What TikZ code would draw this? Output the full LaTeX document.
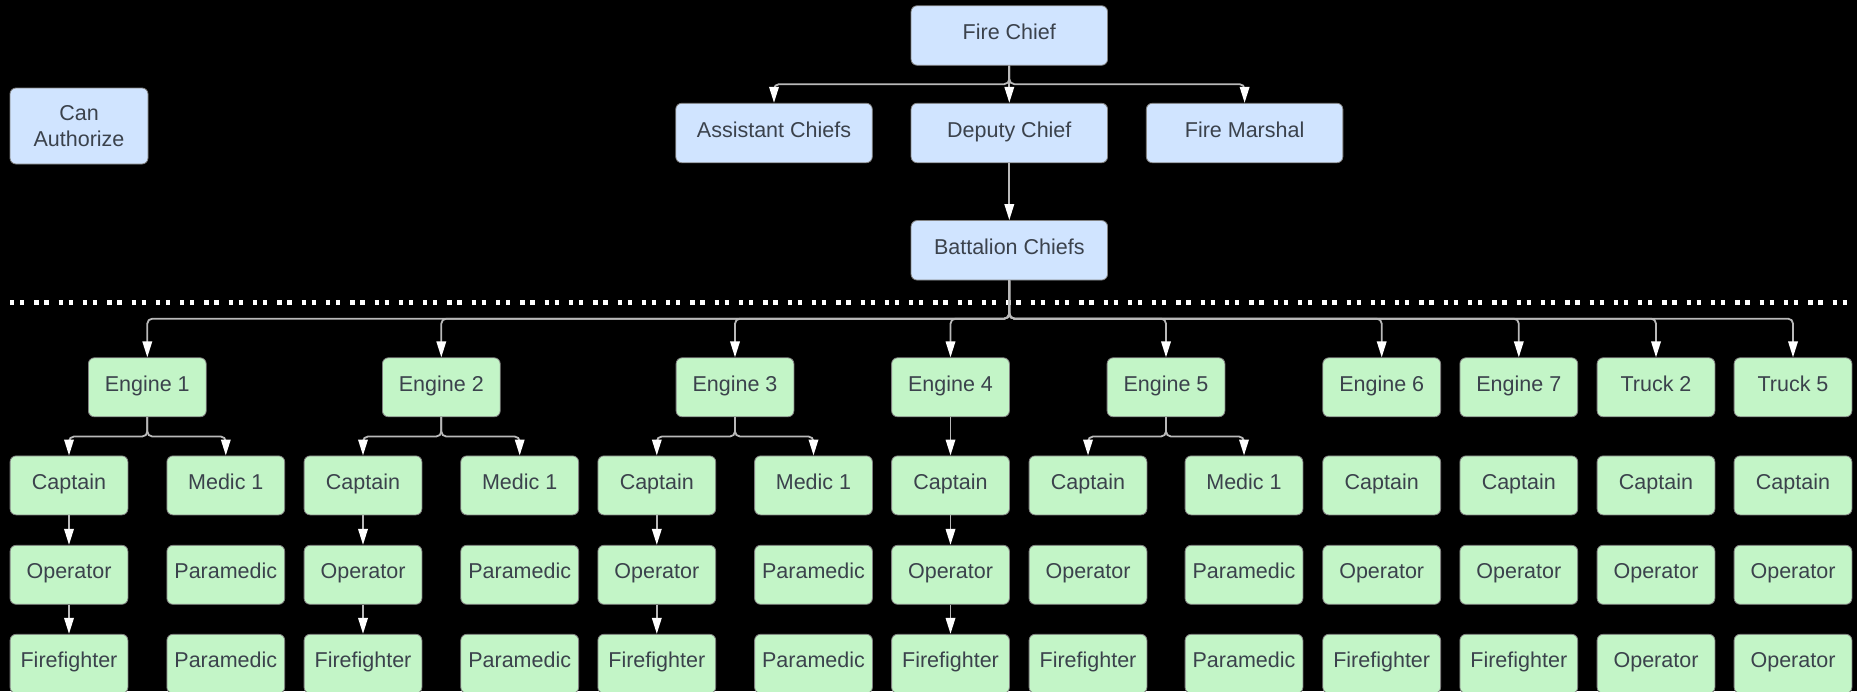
\documentclass[tikz,border=0pt]{standalone}
\usepackage{fontspec}
\setmainfont{Liberation Sans}
\usetikzlibrary{arrows.meta}

\begin{document}
\begin{tikzpicture}[x=1pt,y=-1pt]
    % Define box colors
    \definecolor{boxblue}{RGB}{208, 228, 255}
    \definecolor{boxgreen}{RGB}{195, 245, 199}
    \definecolor{boxline}{RGB}{130, 130, 130}
    \definecolor{boxtext}{RGB}{59, 66, 76}
    \definecolor{linkgray}{RGB}{185, 185, 185}
    \tikzset{
        box/.style={draw=boxline, line width=0.8pt, rounded corners=6pt, inner sep=0pt,
            text=boxtext, font=\fontsize{21.5}{26}\selectfont, align=center},
        chief/.style={box, fill=boxblue, minimum width=196.5pt, minimum height=59.5pt,
            text height=14.5pt, text depth=6.5pt},
        crew/.style={box, fill=boxgreen, minimum width=117.8pt, minimum height=59pt,
            text height=14.5pt, text depth=6.5pt},
        link/.style={draw=linkgray, line width=1.8pt, rounded corners=5pt,
            -{Triangle[length=16pt, width=9.5pt, color=white, fill=white]}}
    }

    % Black page
    \fill[black] (0,0) rectangle (1857,691);
    \useasboundingbox (0,0) rectangle (1857,691);
    \clip (0,0) rectangle (1857,691);

    % Chiefs
    \node[box, fill=boxblue, minimum width=138pt, minimum height=76pt] (canAuth) at (79,126) {Can\\Authorize};
    \node[chief] (fireChief) at (1009.3,35.5) {Fire Chief};
    \node[chief] (assistant) at (774,133) {Assistant Chiefs};
    \node[chief] (deputy) at (1009.3,133) {Deputy Chief};
    \node[chief] (marshal) at (1244.6,133) {Fire Marshal};
    \node[chief] (battalion) at (1009.3,250.3) {Battalion Chiefs};

    \draw[link] (fireChief.south) -- ++(0,18.5) -| (assistant.north);
    \draw[link] (fireChief.south) -- ++(0,18.5) -| (marshal.north);
    \draw[link] (fireChief) -- (deputy);
    \draw[link] (deputy) -- (battalion);

    % Dotted separator
    \draw[white, line width=4.3pt, dash pattern=on 4.3pt off 5.7pt on 4.3pt off 10pt] (10,302.5) -- (1852,302.5);

    % Engines and trucks
    \foreach \name/\label/\xx in {eng1/Engine 1/147.3, eng2/Engine 2/441.3, eng3/Engine 3/735,
        eng4/Engine 4/950.5, eng5/Engine 5/1166, eng6/Engine 6/1381.7, eng7/Engine 7/1518.8,
        truck2/Truck 2/1656, truck5/Truck 5/1793} {
        \node[crew] (\name) at (\xx,387.3) {\label};
        \draw[link] (battalion.south) -- ++(0,38.2) -| (\name.north);
    }

    % Captain columns
    \foreach \xx/\last [count=\i] in {69/Firefighter, 363/Firefighter, 656.8/Firefighter,
        950.5/Firefighter, 1088/Firefighter, 1381.7/Firefighter, 1518.8/Firefighter,
        1656/Operator, 1793/Operator} {
        \node[crew] (cap\i) at (\xx,485.4) {Captain};
        \node[crew] (op\i) at (\xx,574.8) {Operator};
        \node[crew] (ff\i) at (\xx,663.8) {\last};
    }

    % Medic columns
    \foreach \xx [count=\i] in {225.8, 519.7, 813.5, 1244} {
        \node[crew] (med\i) at (\xx,485.4) {Medic 1};
        \node[crew] (paraA\i) at (\xx,574.8) {Paramedic};
        \node[crew] (paraB\i) at (\xx,663.8) {Paramedic};
    }

    \foreach \e/\c/\m in {eng1/cap1/med1, eng2/cap2/med2, eng3/cap3/med3, eng5/cap5/med4} {
        \draw[link] (\e.south) -- ++(0,19.3) -| (\c.north);
        \draw[link] (\e.south) -- ++(0,19.3) -| (\m.north);
    }
    \draw[link] (eng4) -- (cap4);
    \foreach \i in {1,...,4} {
        \draw[link] (cap\i) -- (op\i);
        \draw[link] (op\i) -- (ff\i);
    }

\end{tikzpicture}
\end{document}
